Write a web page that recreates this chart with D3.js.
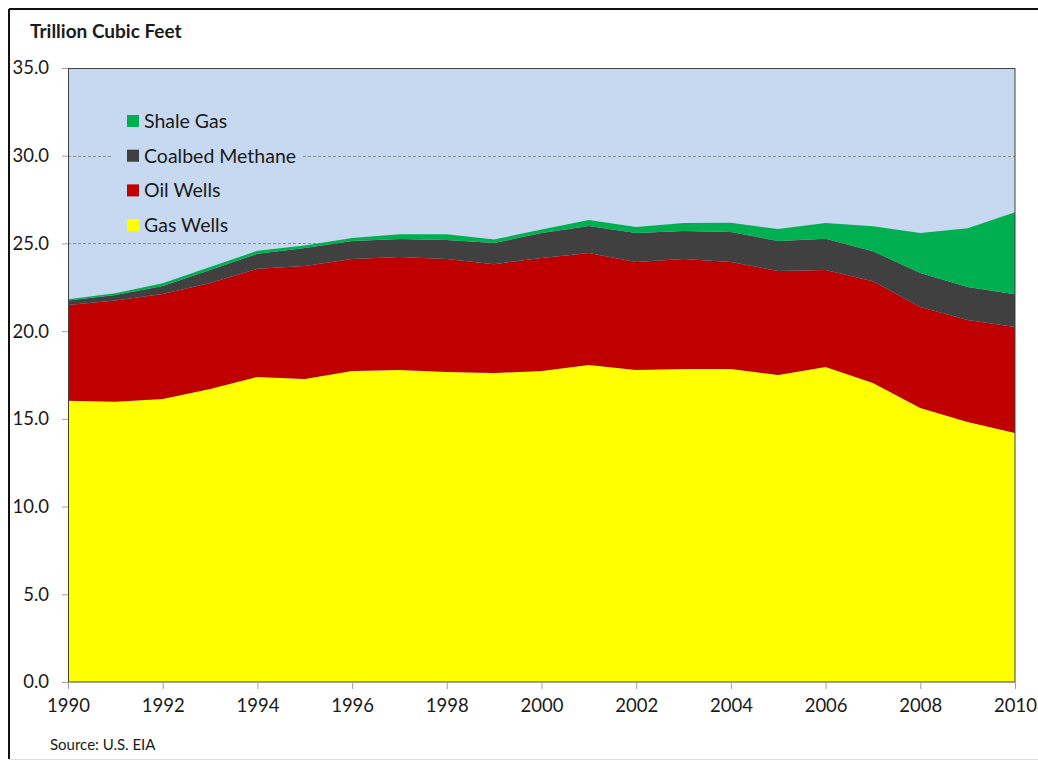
<!DOCTYPE html>
<html>
<head>
<meta charset="utf-8">
<script src="https://cdn.jsdelivr.net/npm/d3@7"></script>
<style>
  body { margin: 0; background: #fff; }
  text { font-family: Lato, "Open Sans", sans-serif; fill: #1a1a1a; }
</style>
</head>
<body>
<div id="chart"></div>
<script>
// values (trillion cubic feet)
var years = [1990,1991,1992,1993,1994,1995,1996,1997,1998,1999,2000,2001,2002,2003,2004,2005,2006,2007,2008,2009,2010];
var gasWells = [16.03,15.98,16.13,16.70,17.39,17.27,17.73,17.78,17.67,17.61,17.73,18.07,17.78,17.84,17.84,17.50,17.96,17.04,15.62,14.82,14.19];
var oilWells = [5.46,5.76,5.99,6.04,6.16,6.44,6.38,6.44,6.44,6.21,6.44,6.38,6.16,6.27,6.10,5.93,5.53,5.81,5.76,5.81,6.04];
var coalbed  = [0.25,0.32,0.46,0.74,0.86,1.03,1.03,1.03,1.08,1.20,1.43,1.54,1.65,1.60,1.71,1.71,1.77,1.71,1.94,1.88,1.88];
var shale    = [0.08,0.10,0.15,0.17,0.17,0.14,0.17,0.28,0.33,0.20,0.20,0.34,0.34,0.46,0.53,0.68,0.91,1.42,2.28,3.36,4.67];
var seriesNames = ["Gas Wells","Oil Wells","Coalbed Methane","Shale Gas"];
var colors = ["#ffff00","#c00000","#404040","#00b050"];
var yTicks = [0,5,10,15,20,25,30,35];
var xTicks = [1990,1992,1994,1996,1998,2000,2002,2004,2006,2008,2010];

var W = 1038, H = 761;
var margin = {top: 68, right: 23, bottom: 79, left: 68};
var width = W - margin.left - margin.right,
    height = H - margin.top - margin.bottom;

var svg = d3.select("#chart").append("svg")
  .attr("width", W).attr("height", H);

// outer frame
svg.append("line").attr("x1", 9).attr("x2", W).attr("y1", 9).attr("y2", 9)
  .attr("stroke", "#111").attr("stroke-width", 2);
svg.append("line").attr("x1", 9).attr("x2", 9).attr("y1", 9).attr("y2", 759)
  .attr("stroke", "#111").attr("stroke-width", 2);
svg.append("line").attr("x1", 9).attr("x2", W).attr("y1", 759.5).attr("y2", 759.5)
  .attr("stroke", "#ddd").attr("stroke-width", 1);

svg.append("text")
  .attr("x", 30).attr("y", 38)
  .style("font-size", "19px").style("font-weight", "bold")
  .text("Trillion Cubic Feet");

var g = svg.append("g")
  .attr("transform", "translate(" + margin.left + "," + margin.top + ")");

var x = d3.scaleLinear().domain([1990, 2010]).range([0, width]);
var y = d3.scaleLinear().domain([0, 35]).range([height, 0]);

// plot background
g.append("rect").attr("width", width).attr("height", height).attr("fill", "#c6d9f1");

// gridlines
g.selectAll(".grid").data(yTicks.filter(function(d){ return d > 0 && d < 35; }))
  .enter().append("line")
  .attr("x1", 0).attr("x2", width)
  .attr("y1", function(d){ return Math.round(y(d)) + 0.5; })
  .attr("y2", function(d){ return Math.round(y(d)) + 0.5; })
  .attr("stroke", "#8c8c8c").attr("stroke-dasharray", "3,2").attr("stroke-width", 1);

// stacked areas
var data = years.map(function(yr, i) {
  return {year: yr, "Gas Wells": gasWells[i], "Oil Wells": oilWells[i],
          "Coalbed Methane": coalbed[i], "Shale Gas": shale[i]};
});
var stack = d3.stack().keys(seriesNames);
var layers = stack(data);

var area = d3.area()
  .x(function(d){ return x(d.data.year); })
  .y0(function(d){ return y(d[0]); })
  .y1(function(d){ return y(d[1]); });

g.selectAll(".layer").data(layers)
  .enter().append("path")
  .attr("d", area)
  .attr("fill", function(d, i){ return colors[i]; });

// plot border
g.append("rect").attr("x", 0.5).attr("y", 0.5)
  .attr("width", width - 0.5).attr("height", height - 0.5)
  .attr("fill", "none").attr("stroke", "#404040").attr("stroke-width", 1);

// y axis
var yAxis = g.append("g")
  .call(d3.axisLeft(y).tickValues(yTicks).tickSize(6).tickPadding(13)
    .tickFormat(d3.format(".1f")));
yAxis.select(".domain").attr("stroke", "#404040");
yAxis.selectAll(".tick line").attr("stroke", "#a0a0a0");
yAxis.selectAll("text").style("font-size", "18.5px").attr("fill", "#1a1a1a");

// x axis
var xAxis = g.append("g")
  .attr("transform", "translate(0," + height + ")")
  .call(d3.axisBottom(x).tickValues(xTicks).tickSize(7).tickPadding(10)
    .tickFormat(d3.format("d")));
xAxis.select(".domain").attr("stroke", "#a0a0a0");
xAxis.selectAll(".tick line").attr("stroke", "#a0a0a0");
xAxis.selectAll("text").style("font-size", "18.5px").attr("fill", "#1a1a1a");

// legend
var legend = g.append("g").attr("transform", "translate(45,32)");
legend.append("rect").attr("x", 0).attr("y", 0).attr("width", 190).attr("height", 140)
  .attr("fill", "#c6d9f1");
var order = seriesNames.slice().reverse();
var rows = legend.selectAll(".row").data(order).enter().append("g")
  .attr("transform", function(d, i){ return "translate(14," + (21 + i * 34.7) + ")"; });
rows.append("rect").attr("x", 0).attr("y", -6).attr("width", 12).attr("height", 12)
  .attr("fill", function(d){ return colors[seriesNames.indexOf(d)]; });
rows.append("text").attr("x", 17).attr("y", 7)
  .style("font-size", "19.5px")
  .text(function(d){ return d; });

svg.append("text")
  .attr("x", 50).attr("y", 750)
  .style("font-size", "15px")
  .text("Source: U.S. EIA");
</script>
</body>
</html>
